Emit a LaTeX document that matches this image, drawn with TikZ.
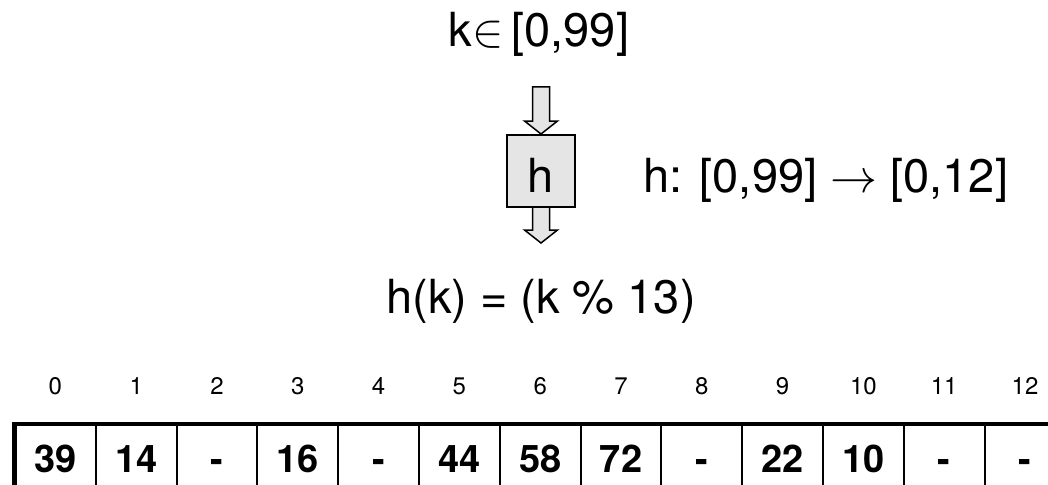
\RequirePackage{fix-cm}
\documentclass[tikz,border=0pt]{standalone}
\usepackage{fontspec}
\setmainfont{TeX Gyre Heros}
\usetikzlibrary{calc}
\usetikzlibrary{positioning}
\tikzset{%
  bigtext/.style={font=\fontsize{47}{50}\selectfont, inner sep=0pt},
  hashbox/.style={draw=black, line width=2pt, fill=black!10, minimum width=68pt, minimum height=72pt, inner sep=0pt, text height=42pt, text depth=0pt, font=\fontsize{47}{50}\selectfont},
  cell/.style={draw=black, line width=2pt, minimum width=80.8pt, minimum height=67pt, inner sep=0pt, text height=27pt, text depth=0pt, font=\fontsize{38}{40}\selectfont\bfseries},
  idx/.style={inner sep=0pt, text height=17pt, text depth=0pt, font=\fontsize{24}{26}\selectfont},
  hollowarrow/.style={draw=black, line width=1.5pt, fill=black!10, line join=miter}
}
% hollow block arrow pointing down: #1 start, #2 tip, #3 closing
\newcommand{\hollowdown}[3]{%
  \fill[hollowarrow, draw=none] let \p1=(#1), \p2=(#2) in
    (\x1-8.5pt,\y1) -- (\x1-8.5pt,\y2+13pt) -- (\x1-16.5pt,\y2+13pt) -- (\x2,\y2)
    -- (\x1+16.5pt,\y2+13pt) -- (\x1+8.5pt,\y2+13pt) -- (\x1+8.5pt,\y1) -- cycle;
  \draw[hollowarrow, fill=none] let \p1=(#1), \p2=(#2) in
    (\x1-8.5pt,\y1) -- (\x1-8.5pt,\y2+13pt) -- (\x1-16.5pt,\y2+13pt) -- (\x2,\y2)
    -- (\x1+16.5pt,\y2+13pt) -- (\x1+8.5pt,\y2+13pt) -- (\x1+8.5pt,\y1) #3;}

\begin{document}
\begin{tikzpicture}[x=1pt, y=-1pt]
  \useasboundingbox (0,0) rectangle (1048,484);

  \node[bigtext, anchor=base] (key) at (539,47) {k$\in$\,[0,99]};
  \node[hashbox] (h) at (541,171) {h};
  \node[bigtext, anchor=base west] (map) at (643,192) {h: [0,99] $\rightarrow$ [0,12]};
  \node[bigtext, anchor=base] (formula) at (541,313) {h(k) = (k \% 13)};

  \coordinate (inTop) at (541,87);
  \coordinate (outTip) at (541,243);
  \hollowdown{inTop}{h.north}{-- cycle}
  \hollowdown{h.south}{outTip}{}

  % hash table
  \foreach \v [count=\i from 0] in {39,14,-,16,-,44,58,72,-,22,10,-,-}{
    \node[cell] (c\i) at (55.4+80.8*\i, 458.5) {\v};
    \node[idx, above=29pt of c\i] (n\i) {\i};
  }
  \draw[line width=4pt, line cap=rect] (c0.north west) -- (c12.north east);
  \draw[line width=5pt, line cap=rect] (c0.north west) -- (c0.south west);
\end{tikzpicture}
\end{document}
